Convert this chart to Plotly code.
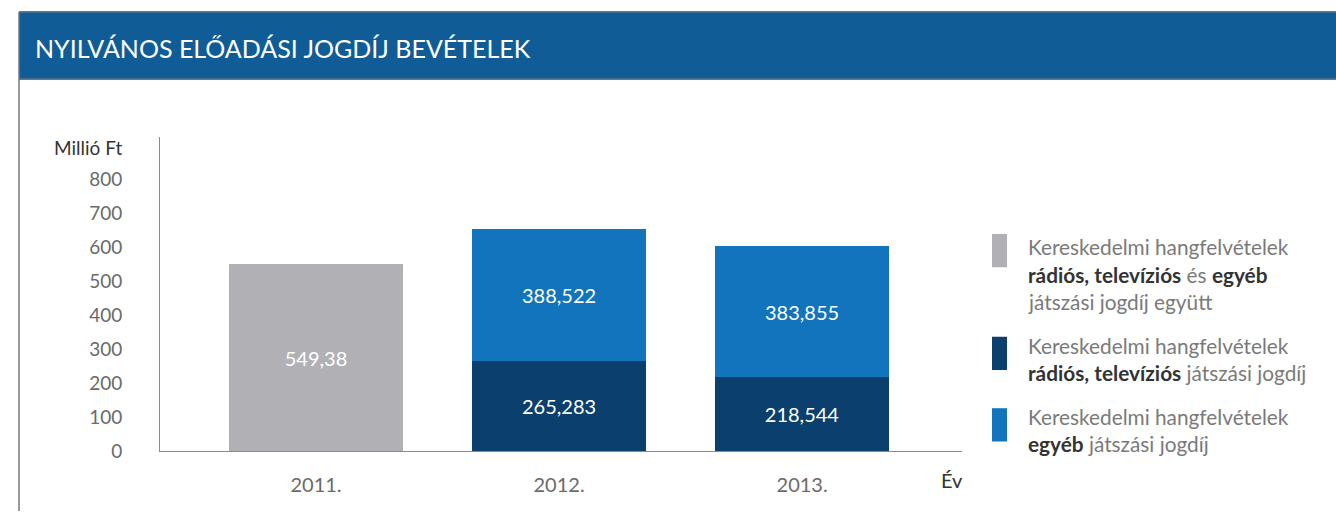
import plotly.graph_objects as go

W, H = 1336, 522

years = ["2011.", "2012.", "2013."]
combined = [549.38, None, None]
radio_tv = [None, 265.283, 218.544]
other = [None, 388.522, 383.855]
y_ticks = [0, 100, 200, 300, 400, 500, 600, 700, 800]

title = "NYILVÁNOS ELŐADÁSI JOGDÍJ BEVÉTELEK"
y_title = "Millió Ft"
x_title = "Év"
legend_lines = [
    ["Kereskedelmi hangfelvételek", "<b>rádiós, televíziós</b> és <b>egyéb</b>", "játszási jogdíj együtt"],
    ["Kereskedelmi hangfelvételek", "<b>rádiós, televíziós</b> játszási jogdíj"],
    ["Kereskedelmi hangfelvételek", "<b>egyéb</b> játszási jogdíj"],
]

C_GRAY = "#b1b1b5"
C_DARK = "#0b3f6d"
C_LIGHT = "#1174bd"
C_HEAD = "#0f5c96"
FONT = "Lato"


def px(x):
    return x / W


def py(y):
    return 1 - y / H


def fmt(v):
    return None if v is None else ("%g" % v).replace(".", ",")


xs = [0, 1, 2]
fig = go.Figure()
for vals, col in [(combined, C_GRAY), (radio_tv, C_DARK), (other, C_LIGHT)]:
    fig.add_trace(go.Bar(
        x=xs, y=vals, marker=dict(color=col, line=dict(width=0)),
        width=0.716, text=[fmt(v) for v in vals], textposition="inside",
        insidetextanchor="middle", textangle=0,
        textfont=dict(color="white", size=20, family=FONT),
        showlegend=False, hoverinfo="skip",
    ))

fig.update_layout(
    width=W, height=H, barmode="stack",
    margin=dict(l=0, r=0, t=0, b=0),
    paper_bgcolor="white", plot_bgcolor="white",
    font=dict(family=FONT),
    xaxis=dict(domain=[px(160), px(962)], range=[-0.642, 2.658],
               tickvals=xs, ticktext=years, showgrid=False, zeroline=False,
               showline=True, linecolor="#8a8a8a", linewidth=1,
               ticks="", ticklabelstandoff=16,
               tickfont=dict(size=20, color="#6a6a6a", family=FONT)),
    yaxis=dict(domain=[py(461), py(140)], range=[0, 924],
               tickvals=y_ticks, showgrid=False, zeroline=False,
               showline=True, linecolor="#8a8a8a", linewidth=1,
               ticks="", ticklabelstandoff=33,
               tickfont=dict(size=19, color="#6a6a6a", family=FONT)),
)

shapes = [
    dict(type="rect", xref="paper", yref="paper", x0=px(19), x1=1, y0=py(81), y1=py(12),
         fillcolor=C_HEAD, line=dict(width=0), layer="below"),
    dict(type="line", xref="paper", yref="paper", x0=px(19), x1=1, y0=py(12), y1=py(12),
         line=dict(color="#777777", width=1.5)),
    dict(type="line", xref="paper", yref="paper", x0=px(19), x1=1, y0=py(81), y1=py(81),
         line=dict(color="#777777", width=1.5)),
    dict(type="line", xref="paper", yref="paper", x0=px(19), x1=px(19), y0=0, y1=py(12),
         line=dict(color="#777777", width=1.5)),
]
legend_boxes = [(239, 273, C_GRAY), (344, 378, C_DARK), (417, 451, C_LIGHT)]
for y0, y1, col in legend_boxes:
    shapes.append(dict(type="rect", xref="paper", yref="paper", x0=px(992), x1=px(1007),
                       y0=py(y1), y1=py(y0), fillcolor=col, line=dict(width=0)))

ann = [
    dict(text=title, x=px(33), y=py(49), xanchor="left", yanchor="middle",
         font=dict(size=25, color="white", family=FONT)),
    dict(text=y_title, x=px(125), y=py(151), xanchor="right", yanchor="middle",
         font=dict(size=19, color="#333333", family=FONT)),
    dict(text=x_title, x=px(952), y=py(490), xanchor="center", yanchor="middle",
         font=dict(size=20, color="#333333", family=FONT)),
]
line_y = [[252, 280, 308], [353, 381], [425, 453]]
for lines, ys in zip(legend_lines, line_y):
    for t, yy in zip(lines, ys):
        t = t.replace("<b>", "<b><span style='color:#333333'>").replace("</b>", "</span></b>")
        ann.append(dict(text=t, x=px(1026), y=py(yy), xanchor="left", yanchor="middle",
                        font=dict(size=20.8, color="#7a7a7a", family=FONT)))
for a in ann:
    a.update(xref="paper", yref="paper", showarrow=False)

fig.update_layout(shapes=shapes, annotations=ann)
fig.write_html(
    "out.html",
    config={"displayModeBar": False, "responsive": False},
    post_script=(
        "var s=document.createElement('style');"
        "s.textContent='html,body{margin:0;padding:0;overflow:hidden;width:1336px;height:522px;}';"
        "document.head.appendChild(s);"
    ),
)
